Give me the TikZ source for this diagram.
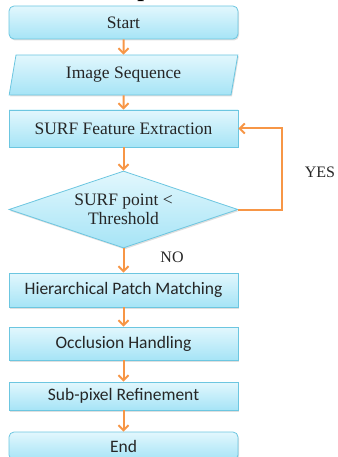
\documentclass[tikz,border=0pt]{standalone}
\usepackage{fontspec}
\setmainfont{Liberation Serif}
\newfontfamily\calibri{Carlito}
\usetikzlibrary{shapes.geometric,arrows.meta,shadows}

\definecolor{boxline}{HTML}{6CC6E0}
\definecolor{boxtop}{HTML}{E2F7FD}
\definecolor{boxbot}{HTML}{A6E4F6}
\definecolor{flowor}{HTML}{F79646}
\definecolor{txt}{HTML}{262626}

\tikzset{
  boxbase/.style={draw=boxline,thick,top color=boxtop,bottom color=boxbot,
    text=txt,minimum width=229pt,align=center,
    drop shadow={opacity=0.25,shadow xshift=1pt,shadow yshift=-1.5pt}},
  procbox/.style={boxbase,rectangle},
  termbox/.style={boxbase,rectangle,rounded corners=5pt},
  iobox/.style={boxbase,trapezium,trapezium left angle=80,trapezium right angle=100,
    trapezium stretches=true},
  decbox/.style={boxbase,diamond,aspect=2.97,minimum height=77pt,inner sep=-6pt},
  rmtext/.style={font=\rmfamily\fontsize{17.5}{19}\selectfont},
  sftext/.style={font=\calibri\fontsize{17.5}{19}\selectfont},
  flow/.style={draw=flowor,line width=2pt,-{Straight Barb[length=5pt,width=10pt]}}
}

\begin{document}
\begin{tikzpicture}[x=1pt,y=-1pt]
  \clip (0,0) rectangle (337,457); %Rammen
  \node[font=\rmfamily\bfseries\fontsize{24}{26}\selectfont,anchor=base,inner sep=0pt] (cut) at (144,-3.2) {p}; %afskaaret titel
  \node[termbox,rmtext,minimum height=33pt] (start) at (123.5,22.5) {Start};
  \node[iobox,rmtext,minimum height=40pt] (seq) at (123.5,75) {Image Sequence};
  \node[procbox,rmtext,minimum height=37pt] (surf) at (123.5,128.5) {SURF Feature Extraction};
  \node[decbox,rmtext,minimum width=229pt] (dec) at (123.5,209.5) {SURF point <\\Threshold};
  \node[procbox,sftext,minimum height=34pt] (match) at (123.5,290) {Hierarchical Patch Matching};
  \node[procbox,sftext,minimum height=33pt] (occl) at (123.5,343.5) {Occlusion Handling};
  \node[procbox,sftext,minimum height=28pt] (refine) at (123.5,396) {Sub-pixel Refinement};
  \node[termbox,sftext,minimum height=28pt] (end) at (123.5,446) {End};
  \node[font=\rmfamily\fontsize{16}{18}\selectfont,text=txt] (yes) at (320,172) {YES}; %ja-label
  \node[font=\rmfamily\fontsize{16}{18}\selectfont,text=txt] (no) at (172,257) {NO}; %nej-label

  \draw[flow] (start) -- (seq);
  \draw[flow] (seq) -- (surf);
  \draw[flow] (surf) -- (dec);
  \draw[flow] (dec.east) -- ++(44,0) |- (surf.east); %loekke tilbage
  \draw[flow] (dec) -- (match);
  \draw[flow] (match) -- (occl);
  \draw[flow] (occl) -- (refine);
  \draw[flow] (refine) -- (end);
\end{tikzpicture}
\end{document}
